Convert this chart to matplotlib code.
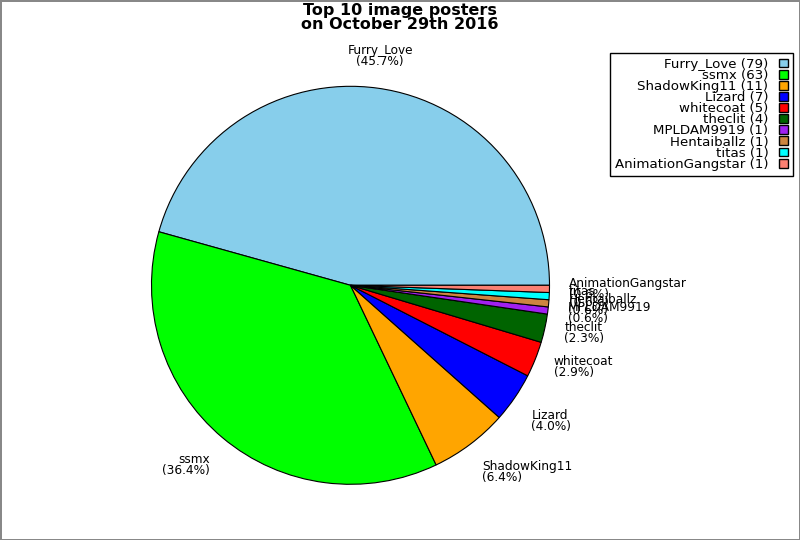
import numpy as np
import matplotlib
matplotlib.use("Agg")
import matplotlib.pyplot as plt
from matplotlib.patches import Patch

# top posters and their image counts
names = ["Furry_Love", "ssmx", "ShadowKing11", "Lizard", "whitecoat",
         "theclit", "MPLDAM9919", "Hentaiballz", "titas", "AnimationGangstar"]
counts = [79, 63, 11, 7, 5, 4, 1, 1, 1, 1]
colors = ["#87ceeb", "#00ff00", "#ffa500", "#0000ff", "#ff0000",
          "#006400", "#a020f0", "#cd853f", "#00ffff", "#fa8072"]
title = "Top 10 image posters\non October 29th 2016"

total = float(sum(counts))
pct_labels = ["%s\n(%.1f%%)" % (n, 100.0 * c / total) for n, c in zip(names, counts)]
legend_labels = ["%s (%d)" % (n, c) for n, c in zip(names, counts)]

fig = plt.figure(figsize=(8, 5.4), dpi=100)
fig.patch.set_edgecolor("#888888")
fig.patch.set_linewidth(2)

# square axes placed so that the pie sits left of centre
R = 199.0
half = 1.25 * R
cx, cy = 350.5, 540 - 285.3
ax = fig.add_axes([(cx - half) / 800, (cy - half) / 540, 2 * half / 800, 2 * half / 540])

wedges, texts = ax.pie(counts, labels=pct_labels, colors=colors, startangle=0,
                       counterclock=True, labeldistance=1.1,
                       wedgeprops=dict(edgecolor="black", linewidth=0.8),
                       textprops=dict(fontsize=8.7, linespacing=0.8))

# re-align labels the way the original output did
for w, t in zip(wedges, texts):
    ang = np.deg2rad((w.theta1 + w.theta2) / 2.0)
    c, s = np.cos(ang), np.sin(ang)
    if abs(c) < 0.2:
        t.set_ha("center")
    else:
        t.set_ha("left" if c > 0 else "right")
    if s > 0.5:
        t.set_va("bottom")
    elif s < -0.5:
        t.set_va("top")
    else:
        t.set_va("center")

ax.set_xlim(-1.25, 1.25)
ax.set_ylim(-1.25, 1.25)
ax.set_aspect("equal")
ax.axis("off")

handles = [Patch(facecolor=col, edgecolor="black", linewidth=1) for col in colors]
leg = fig.legend(handles, legend_labels, loc="upper right",
                 bbox_to_anchor=(793 / 800, 1 - 53 / 540), fontsize=9.6,
                 markerfirst=False, fancybox=False, framealpha=1,
                 edgecolor="black", labelspacing=-0.14, handlelength=0.7,
                 handleheight=0.65, handletextpad=0.8, borderpad=0.35,
                 borderaxespad=0)
leg.get_frame().set_linewidth(1)

fig.suptitle(title, y=0.995, va="top", fontsize=11.5, fontweight="bold",
             linespacing=0.9)

fig.savefig("out.png", dpi=100)
